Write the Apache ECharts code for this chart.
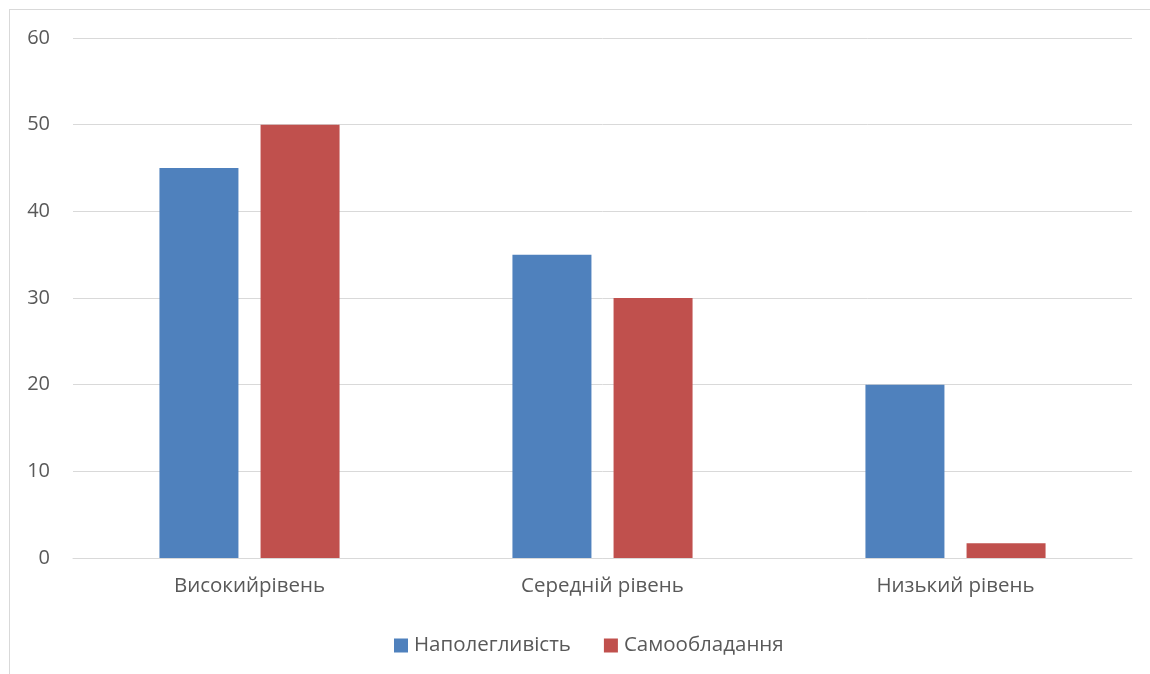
<!DOCTYPE html>
<html>
<head>
<meta charset="utf-8">
<script src="https://cdn.jsdelivr.net/npm/echarts@6/dist/echarts.min.js"></script>
<style>
  html, body { margin: 0; padding: 0; background: #ffffff; }
  #frame {
    position: absolute; left: 9px; top: 9px; width: 1160px; height: 680px;
    border: 1px solid #d9d9d9; background: #ffffff; box-sizing: border-box;
  }
  #chart { position: absolute; left: 0; top: 0; width: 1150px; height: 674px; }
</style>
</head>
<body>
<div id="frame"></div>
<div id="chart"></div>
<script>
// Levels and percentages for the two qualities
const categories = ['Високийрівень', 'Середній рівень', 'Низький рівень'];
const persistence = [45, 35, 20];     // Наполегливість
const selfControl = [50, 30, 1.7];    // Самообладання
const seriesNames = ['Наполегливість', 'Самообладання'];

const FONT = '"Open Sans", "Noto Sans", sans-serif';
const TEXT = '#595959';
const GRID = '#d9d9d9';

const chart = echarts.init(document.getElementById('chart'));
chart.setOption({
  animation: false,
  backgroundColor: 'transparent',
  textStyle: { fontFamily: FONT },
  grid: { left: 73, right: 18, top: 38, bottom: 116, containLabel: false },
  legend: {
    data: seriesNames,
    top: 630,
    left: 389,
    itemWidth: 14, itemHeight: 14, itemGap: 33,
    icon: 'rect',
    textStyle: { color: TEXT, fontSize: 20.5, fontFamily: FONT, padding: [0, 0, 0, 1] }
  },
  xAxis: {
    type: 'category',
    data: categories,
    axisLine: { lineStyle: { color: GRID, width: 1 } },
    axisTick: { show: false },
    axisLabel: { color: TEXT, fontSize: 20.5, margin: 18, fontFamily: FONT }
  },
  yAxis: {
    type: 'value',
    min: 0, max: 60, interval: 10,
    axisLine: { show: false },
    axisTick: { show: false },
    splitLine: { lineStyle: { color: GRID, width: 1 } },
    axisLabel: { color: TEXT, fontSize: 20, margin: 23, fontFamily: FONT }
  },
  series: [
    {
      name: seriesNames[0], type: 'bar', data: persistence,
      barWidth: 79, barGap: '28%',
      itemStyle: { color: '#4f81bd' }
    },
    {
      name: seriesNames[1], type: 'bar', data: selfControl,
      barWidth: 79, barGap: '28%',
      itemStyle: { color: '#c0504d' }
    }
  ]
});
</script>
</body>
</html>
